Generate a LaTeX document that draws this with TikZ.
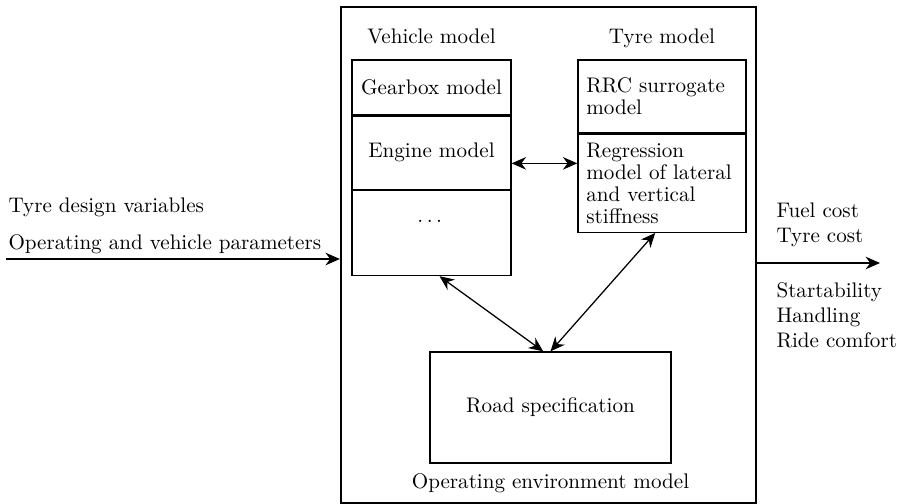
\documentclass[tikz,border=0pt]{standalone}
\usepackage{amsmath,amssymb}
\usepackage{tikz}
\usetikzlibrary{arrows.meta,positioning,calc}
\tikzset{
  box/.style={draw, line width=0.6pt, align=center, inner sep=4pt},
  frame/.style={draw, line width=1pt, minimum width=6.917cm, minimum height=8.267cm},
  tbox/.style={box, align=left, text width=2.52cm, minimum width=2.8cm, font={\fontsize{10}{10.5}\selectfont}},
  title/.style={text height=7pt, text depth=2pt},
  lbl/.style={align=left, inner sep=1pt},
  line/.style={-{Stealth[length=2.4mm, width=2.1mm]}, line width=0.6pt},
  dline/.style={{Stealth[length=2.4mm, width=2.1mm]}-{Stealth[length=2.4mm, width=2.1mm]}, line width=0.6pt}
}

\begin{document}
\begin{tikzpicture}[x=0.016667cm, y=-0.016667cm, node distance=0pt]
    \useasboundingbox (0,0) rectangle (900,504);
    \node[frame] (sys) at (548.5,255) {};
    \node[box, minimum width=2.65cm, minimum height=0.917cm] (gear) at (431.5,87.5) {Gearbox model};
    \node[box, below=of gear, minimum width=2.65cm, minimum height=1.217cm] (engine) {Engine model};
    \node[box, below=of engine, minimum width=2.65cm, minimum height=1.417cm, text height=8pt, text depth=18pt] (dots) {$\dots$};
    \node[title, above=2pt of gear] (veh) {Vehicle model};
    \node[tbox, minimum height=1.217cm] (rrc) at (662,96.5) {RRC surrogate\\model};
    \node[tbox, below=of rrc, minimum height=1.633cm] (regr) {Regression\\model of lateral\\and vertical\\stiffness};
    \node[title, above=2pt of rrc] (tyre) {Tyre model};
    \node[box, minimum width=4.017cm, minimum height=1.85cm] (road) at (550.5,407.5) {Road specification};
    \node[below=1pt of road] (env) {Operating environment model};
    \coordinate (e1) at ([yshift=-5pt]engine.east);
    \draw[dline] (e1) -- (e1 -| regr.west);
    \draw[dline] ($(dots.south west)!0.55!(dots.south east)$) -- ($(road.north west)!0.47!(road.north east)$);
    \draw[dline] ($(regr.south west)!0.46!(regr.south east)$) -- (road.north);
    \coordinate (in) at (6,259);
    \coordinate (out) at (880,263);
    \coordinate (o1) at (sys.east |- out);
    \draw[line] (in) -- (in -| sys.west);
    \draw[line] (o1) -- (out);
    \node[lbl, above right=1.4pt and 0pt of in] (inputs) {Tyre design variables\\[5.5pt]Operating and vehicle parameters};
    \node[lbl, above right=6.5pt and 8pt of o1] (costs) {Fuel cost\\Tyre cost};
    \node[lbl, below right=8pt and 8pt of o1] (perf) {Startability\\Handling\\Ride comfort};
  \end{tikzpicture}
\end{document}
